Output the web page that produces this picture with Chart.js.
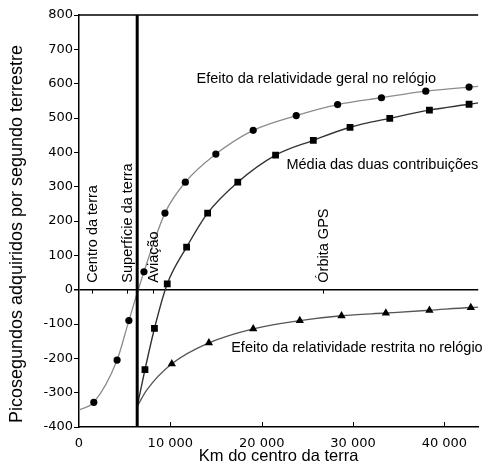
<!DOCTYPE html>
<html>
<head>
<meta charset="utf-8">
<script src="https://cdn.jsdelivr.net/npm/chart.js@4.4.1/dist/chart.umd.min.js"></script>
<style>
  html, body { margin: 0; padding: 0; background: #fff; }
</style>
</head>
<body>
<canvas id="myChart" width="483" height="463"></canvas>
<script>
// marcadores (km do centro da terra, picosegundos por segundo)
const geralKm = [1620, 4170, 5460, 7110, 9410, 11640, 14980, 19070, 23780, 28310, 33110, 37960, 42700];
const geralPs = [-328, -205, -90, 52, 223, 313, 395, 464, 507, 539, 559, 578, 590];
const mediaKm = [7220, 8260, 9660, 11780, 14080, 17380, 21520, 25650, 29670, 34020, 38360, 42700];
const mediaPs = [-233, -113, 17, 124, 223, 313, 392, 435, 473, 499, 523, 540];
const restritaKm = [10160, 14220, 19070, 24170, 28740, 33590, 38360, 42890];
const restritaPs = [-216, -155, -114, -90, -76, -68, -60, -52];

// pontos extra das curvas (pontas e um ponto de apoio), sem marcador
const geralCurvaKm = [0, 43700];
const geralCurvaPs = [-350, 592];
const mediaCurvaKm = [6371, 43700];
const mediaCurvaPs = [-340, 544];
const restritaCurvaKm = [6371, 7430, 43700];
const restritaCurvaPs = [-340, -292, -51];

// marcas de referencia
const superficieKm = 6371;
const marcasKm = [1440, 5300, 8110, 26700];
const marcasTexto = ['Centro da terra', 'Superfície da terra', 'Aviação', 'Órbita GPS'];

const xTicks = [0, 10000, 20000, 30000, 40000];

function pontos(km, ps) {
    return km.map((x, i) => ({ x: x, y: ps[i] }));
}
function curva(km, ps, extraKm, extraPs) {
    return pontos(km, ps).concat(pontos(extraKm, extraPs)).sort((a, b) => a.x - b.x);
}

const txtFont = '14.5px "Liberation Sans", Arial, sans-serif';

// desenha as linhas de referencia e os textos
const extras = {
    id: 'extras',
    afterDraw(chart) {
        const { ctx, chartArea: a, scales: { x, y } } = chart;
        ctx.save();
        ctx.strokeStyle = '#000';
        // borda de cima
        ctx.lineWidth = 1.5;
        ctx.beginPath();
        ctx.moveTo(a.left, a.top);
        ctx.lineTo(a.right, a.top);
        ctx.stroke();
        // marcas para dentro no eixo x
        ctx.lineWidth = 1;
        xTicks.slice(1).forEach(v => {
            const px = Math.round(x.getPixelForValue(v)) + 0.5;
            ctx.beginPath();
            ctx.moveTo(px, a.bottom);
            ctx.lineTo(px, a.bottom - 5);
            ctx.stroke();
        });
        // superficie da terra
        ctx.lineWidth = 3;
        const sx = x.getPixelForValue(superficieKm);
        ctx.beginPath();
        ctx.moveTo(sx, a.top);
        ctx.lineTo(sx, a.bottom);
        ctx.stroke();
        // marcas e textos verticais
        const y0 = y.getPixelForValue(0);
        ctx.lineWidth = 1;
        ctx.font = txtFont;
        ctx.fillStyle = '#000';
        marcasKm.forEach((v, i) => {
            const px = Math.round(x.getPixelForValue(v)) + 0.5;
            ctx.beginPath();
            ctx.moveTo(px, y0);
            ctx.lineTo(px, y0 + 4);
            ctx.stroke();
            ctx.save();
            ctx.translate(px, y0 - 7);
            ctx.rotate(-Math.PI / 2);
            ctx.textAlign = 'left';
            ctx.textBaseline = 'middle';
            ctx.fillText(marcasTexto[i], 0, 0);
            ctx.restore();
        });
        // nomes das curvas
        ctx.textAlign = 'left';
        ctx.textBaseline = 'middle';
        ctx.fillText('Efeito da relatividade geral no relógio', x.getPixelForValue(12870), y.getPixelForValue(613));
        ctx.fillText('Média das duas contribuições', x.getPixelForValue(22710), y.getPixelForValue(363));
        ctx.fillText('Efeito da relatividade restrita no relógio', x.getPixelForValue(16660), y.getPixelForValue(-170));
        // titulo do eixo y
        ctx.save();
        ctx.font = '18px "Liberation Sans", Arial, sans-serif';
        ctx.translate(17, 234);
        ctx.rotate(-Math.PI / 2);
        ctx.textAlign = 'center';
        ctx.fillText('Picosegundos adquiridos por segundo terrestre', 0, 0);
        ctx.restore();
        ctx.restore();
    }
};

const ctx = document.getElementById('myChart').getContext('2d');

new Chart(ctx, {
    type: 'scatter',
    data: {
        datasets: [
            { data: curva(geralKm, geralPs, geralCurvaKm, geralCurvaPs), showLine: true, borderColor: '#8c8c8c', borderWidth: 1.3, pointRadius: 0, cubicInterpolationMode: 'monotone', order: 2 },
            { data: curva(mediaKm, mediaPs, mediaCurvaKm, mediaCurvaPs), showLine: true, borderColor: '#333', borderWidth: 1.4, pointRadius: 0, cubicInterpolationMode: 'monotone', order: 2 },
            { data: curva(restritaKm, restritaPs, restritaCurvaKm, restritaCurvaPs), showLine: true, borderColor: '#555', borderWidth: 1.3, pointRadius: 0, cubicInterpolationMode: 'monotone', order: 2 },
            { data: pontos(geralKm, geralPs), pointStyle: 'circle', pointRadius: 3.6, backgroundColor: '#000', borderColor: '#000', borderWidth: 0, order: 1 },
            { data: pontos(mediaKm, mediaPs), pointStyle: 'rect', pointRadius: 4.8, backgroundColor: '#000', borderColor: '#000', borderWidth: 0, order: 1 },
            { data: pontos(restritaKm, restritaPs), pointStyle: 'triangle', pointRadius: 4.8, backgroundColor: '#000', borderColor: '#000', borderWidth: 0, order: 1 }
        ]
    },
    options: {
        responsive: false,
        animation: false,
        layout: { padding: { top: 15, right: 0, left: 0, bottom: 0 } },
        plugins: { legend: { display: false }, tooltip: { enabled: false } },
        scales: {
            x: {
                type: 'linear',
                min: 0,
                max: 43700,
                afterFit: s => { s.height = 36; },
                afterBuildTicks: s => { s.ticks = xTicks.map(v => ({ value: v })); },
                ticks: {
                    padding: 9,
                    color: '#000',
                    font: { family: '"DejaVu Sans"', size: 13 },
                    callback: v => v === 0 ? '0' : String(v / 1000) + ' 000'
                },
                grid: { drawOnChartArea: false, drawTicks: false },
                border: { display: true, color: '#000', width: 1.5 },
                title: {
                    display: true,
                    text: 'Km do centro da terra',
                    color: '#000',
                    font: { family: '"Liberation Sans"', size: 16.5, lineHeight: 0.75 },
                    padding: 0
                }
            },
            y: {
                min: -400,
                max: 800,
                afterFit: s => { s.width = 79; },
                ticks: {
                    stepSize: 100,
                    padding: 1,
                    color: '#000',
                    font: { family: '"DejaVu Sans"', size: 13 }
                },
                grid: {
                    drawOnChartArea: true,
                    tickLength: 5,
                    tickColor: '#000',
                    color: c => (c.tick && c.tick.value === 0) ? '#000' : 'rgba(0,0,0,0)',
                    lineWidth: c => (c.tick && c.tick.value === 0) ? 1.5 : 1
                },
                border: { display: true, color: '#000', width: 1.5 }
            }
        }
    },
    plugins: [extras]
});
</script>
</body>
</html>
